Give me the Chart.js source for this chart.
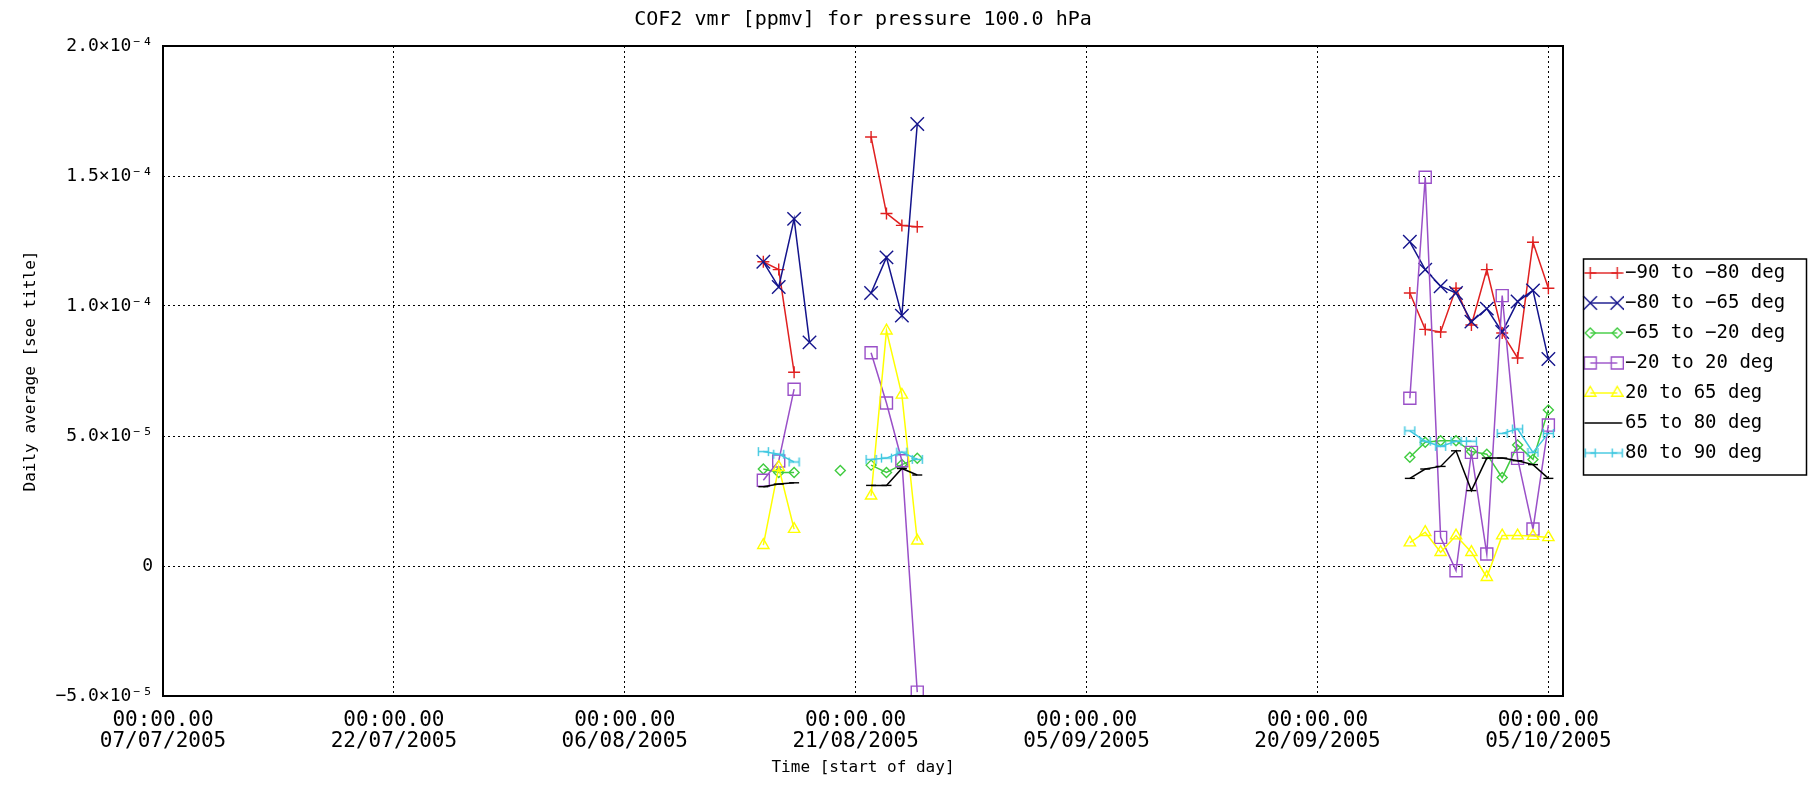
<!DOCTYPE html>
<html>
<head>
<meta charset="utf-8">
<script src="https://cdn.jsdelivr.net/npm/chart.js@4/dist/chart.umd.min.js"></script>
<style>
html,body{margin:0;padding:0;background:#fff;}
#wrap{width:1816px;height:785px;position:relative;background:#fff;}
</style>
</head>
<body>
<div id="wrap"><canvas id="c"></canvas></div>
<script>
// ---------------- data ----------------
const titleText = 'COF2 vmr [ppmv] for pressure 100.0 hPa';
const xAxisTitle = 'Time [start of day]';
const yAxisTitle = 'Daily average [see title]';
const originDate = '07/07/2005';
const xTickTime = '00:00.00';
const xTickDates = ['07/07/2005','22/07/2005','06/08/2005','21/08/2005','05/09/2005','20/09/2005','05/10/2005'];
const yTickValues = [-5e-5, 0, 5e-5, 1e-4, 1.5e-4, 2e-4];
const yTickLabels = ['\u22125.0\u00d710\u207b\u2075','0','5.0\u00d710\u207b\u2075','1.0\u00d710\u207b\u2074','1.5\u00d710\u207b\u2074','2.0\u00d710\u207b\u2074'];

const dates = ['15/08/2005','16/08/2005','17/08/2005','18/08/2005','19/08/2005','20/08/2005','21/08/2005',
               '22/08/2005','23/08/2005','24/08/2005','25/08/2005','25/09/2005','26/09/2005','27/09/2005',
               '28/09/2005','29/09/2005','30/09/2005','01/10/2005','02/10/2005','03/10/2005','04/10/2005','05/10/2005'];

const seriesNames = ['\u221290 to \u221280 deg','\u221280 to \u221265 deg','\u221265 to \u221220 deg','\u221220 to 20 deg','20 to 65 deg','65 to 80 deg','80 to 90 deg'];

const lat90to80 = [117e-6,114e-6,74.5e-6,null,null,null,null,165e-6,135.6e-6,131e-6,130.5e-6,null,105e-6,91e-6,90e-6,106.8e-6,92.7e-6,114e-6,89.6e-6,80e-6,124.5e-6,106.8e-6];
const lat80to65 = [117e-6,107.3e-6,133.5e-6,86e-6,null,null,null,105e-6,118.7e-6,96.3e-6,170e-6,null,124.7e-6,114e-6,107.6e-6,105e-6,94e-6,99e-6,90e-6,101.7e-6,106e-6,79.6e-6];
const lat65to20 = [37.3e-6,36e-6,36e-6,null,null,36.7e-6,null,38.8e-6,36e-6,39e-6,41.4e-6,null,41.8e-6,47.6e-6,48.2e-6,48.2e-6,44e-6,43e-6,34e-6,46.5e-6,41e-6,60e-6];
const lat20to20 = [33e-6,40.4e-6,68e-6,null,null,null,null,82e-6,62.7e-6,40.5e-6,-48.5e-6,null,64.5e-6,149.5e-6,11e-6,-1.8e-6,43.7e-6,4.6e-6,104e-6,41.4e-6,14.2e-6,54.2e-6];
const lat20to65 = [8e-6,38e-6,14.2e-6,null,null,null,null,27e-6,90.5e-6,65.8e-6,9.7e-6,null,9e-6,13e-6,5.3e-6,11.7e-6,5.3e-6,-4.3e-6,11.7e-6,11.7e-6,11.5e-6,11e-6];
const lat65to80 = [30.5e-6,31.5e-6,32e-6,null,null,null,null,31e-6,31e-6,37.5e-6,35e-6,null,33.7e-6,37.3e-6,38.3e-6,44.3e-6,29e-6,41.5e-6,41.5e-6,40.5e-6,39e-6,33.7e-6];
const lat80to90 = [44e-6,43e-6,40e-6,null,null,null,null,41e-6,41.5e-6,43.8e-6,41e-6,null,52e-6,48e-6,46e-6,48e-6,48e-6,null,51e-6,52.7e-6,43.7e-6,51e-6];

// ---------------- helpers ----------------
function dayOf(s){
  const p = s.split('/').map(Number);
  const o = originDate.split('/').map(Number);
  return (Date.UTC(p[2],p[1]-1,p[0]) - Date.UTC(o[2],o[1]-1,o[0])) / 86400000;
}
const xDays = dates.map(dayOf);
const xTickDays = xTickDates.map(dayOf);

function makeCap(color){
  const cv = document.createElement('canvas');
  cv.width = 13; cv.height = 11;
  const c = cv.getContext('2d');
  c.strokeStyle = color; c.lineWidth = 1.4;
  c.beginPath();
  c.moveTo(1.5,5.5); c.lineTo(11.5,5.5);
  c.moveTo(1.5,1); c.lineTo(1.5,10);
  c.moveTo(11.5,1); c.lineTo(11.5,10);
  c.stroke();
  return cv;
}

const FONT = "'DejaVu Sans Mono', 'Liberation Mono', monospace";
const colors = ['#e02020','#14148c','#40cc40','#9a50c8','#ffff00','#000000','#40c8e0'];
const styles = ['cross','crossRot','rectRot','rect','triangle','line', makeCap('#40c8e0')];
const radii  = [6, 9.5, 5, 8.5, 6.5, 5, 6];
const values = [lat90to80, lat80to65, lat65to20, lat20to20, lat20to65, lat65to80, lat80to90];

function drawMark(c, style, x, y, r){
  if (style instanceof HTMLCanvasElement){ c.drawImage(style, x - style.width/2, y - style.height/2); return; }
  c.beginPath();
  if (style === 'cross'){ c.moveTo(x-r,y); c.lineTo(x+r,y); c.moveTo(x,y-r); c.lineTo(x,y+r); }
  else if (style === 'crossRot'){ const d=r*Math.SQRT1_2; c.moveTo(x-d,y-d); c.lineTo(x+d,y+d); c.moveTo(x-d,y+d); c.lineTo(x+d,y-d); }
  else if (style === 'rectRot'){ c.moveTo(x-r,y); c.lineTo(x,y-r); c.lineTo(x+r,y); c.lineTo(x,y+r); c.closePath(); }
  else if (style === 'rect'){ const s=r*Math.SQRT1_2; c.rect(x-s,y-s,2*s,2*s); }
  else if (style === 'triangle'){ const h=r*0.866; c.moveTo(x,y-r); c.lineTo(x+h,y+r/2); c.lineTo(x-h,y+r/2); c.closePath(); }
  else if (style === 'line'){ c.moveTo(x-r,y); c.lineTo(x+r,y); }
  c.stroke();
}

function makeSample(i){
  const cv = document.createElement('canvas');
  cv.width = 58; cv.height = 22;
  const c = cv.getContext('2d');
  c.strokeStyle = colors[i]; c.lineWidth = 1.4;
  const y = 11;
  c.beginPath();
  if (styles[i] === 'line'){ c.moveTo(18.5,y); c.lineTo(56.5,y); }
  else { c.moveTo(24.5,y); c.lineTo(51.5,y); }
  c.stroke();
  if (styles[i] !== 'line'){
    drawMark(c, styles[i], 24.5, y, radii[i]);
    drawMark(c, styles[i], 51.5, y, radii[i]);
  }
  return cv;
}
const samples = seriesNames.map((n,i)=>makeSample(i));

const datasets = seriesNames.map((name,i)=>({
  label: name,
  data: xDays.map((d,k)=>({x:d, y: values[i][k]})),
  borderColor: colors[i],
  borderWidth: 1.5,
  pointStyle: styles[i],
  pointRadius: radii[i],
  pointHoverRadius: radii[i],
  pointBorderColor: colors[i],
  pointBackgroundColor: 'rgba(0,0,0,0)',
  pointBorderWidth: 1.4,
  spanGaps: false,
  tension: 0,
  order: seriesNames.length - i
}));

const LEGEND_W = 253;
const LEGEND_PAD = 11;
const LEGEND_FIRST_ROW_TOP = 263.5;
const framePlugin = {
  id: 'frame',
  beforeLayout(chart){
    const lg = chart.legend;
    if (lg && !lg._wfix){
      const f = lg.fit;
      lg.fit = function(){ f.call(this); this.width = LEGEND_W; };
      lg._wfix = true;
    }
  },
  afterLayout(chart){
    const lg = chart.legend;
    if (lg && lg.columnSizes && lg.columnSizes.length){
      const colH = lg.columnSizes[0].height;
      const cur = (lg.top + LEGEND_PAD + lg.bottom - colH) / 2;
      const d = LEGEND_FIRST_ROW_TOP - cur;
      lg.top += d; lg.bottom += d;
    }
  },
  afterDraw(chart){
    const {ctx, chartArea:a} = chart;
    ctx.save();
    ctx.strokeStyle = '#000';
    ctx.lineWidth = 2;
    ctx.strokeRect(a.left, a.top, a.right - a.left, a.bottom - a.top);
    const lg = chart.legend;
    if (lg && lg.columnSizes && lg.columnSizes.length){
      const colH = lg.columnSizes[0].height;
      const y0 = (lg.top + LEGEND_PAD + lg.bottom - colH) / 2;
      ctx.lineWidth = 1.5;
      const x0 = lg.left + 20;
      ctx.strokeRect(x0 + 0.5, y0 - 4.5, 1806 - x0, colH - LEGEND_PAD + 4 + 13);
    }
    ctx.restore();
  }
};

new Chart(document.getElementById('c'), {
  type: 'line',
  data: { datasets },
  plugins: [framePlugin],
  options: {
    responsive: true,
    maintainAspectRatio: false,
    animation: false,
    devicePixelRatio: 1,
    layout: { padding: 0 },
    plugins: {
      title: {
        display: true, text: titleText, fullSize: false,
        color: '#000', font: { family: FONT, size: 20, weight: 'normal', lineHeight: 1.2 },
        padding: { top: 8, bottom: 14 }
      },
      legend: {
        display: true, position: 'right', align: 'center',
        labels: {
          usePointStyle: true, pointStyleWidth: 41.5, padding: LEGEND_PAD,
          color: '#000', font: { family: FONT, size: 19 },
          generateLabels: (chart) => chart.data.datasets.map((ds,i)=>({
            text: ds.label, pointStyle: samples[i], fillStyle: 'rgba(0,0,0,0)',
            strokeStyle: 'rgba(0,0,0,0)', lineWidth: 0, hidden: false, datasetIndex: i, fontColor: '#000'
          }))
        }
      },
      tooltip: { enabled: false }
    },
    scales: {
      x: {
        type: 'linear', min: 0, max: 90.95,
        afterBuildTicks: (s) => { s.ticks = xTickDays.map(v => ({value: v})); },
        afterFit: (s) => { s.height = 89; },
        ticks: {
          autoSkip: false, maxRotation: 0, minRotation: 0, padding: 14, color: '#000',
          font: { family: FONT, size: 21, lineHeight: 1.0 },
          callback: (v) => { const i = xTickDays.indexOf(v); return [xTickTime, xTickDates[i]]; }
        },
        grid: { color: '#000', lineWidth: 1, drawTicks: false },
        border: { display: false, dash: [2, 3] },
        title: { display: true, text: xAxisTitle, color: '#000', font: { family: FONT, size: 16, lineHeight: 1.2 }, padding: { top: 0, bottom: 8 } }
      },
      y: {
        type: 'linear', min: -5e-5, max: 2e-4,
        afterBuildTicks: (s) => { s.ticks = yTickValues.map(v => ({value: v})); },
        afterFit: (s) => { s.width = 163; },
        ticks: {
          padding: 10, color: '#000',
          font: { family: FONT, size: 18 },
          callback: (v) => yTickLabels[yTickValues.indexOf(v)]
        },
        grid: { color: '#000', lineWidth: 1, drawTicks: false },
        border: { display: false, dash: [2, 3] },
        title: { display: true, text: yAxisTitle, color: '#000', font: { family: FONT, size: 16, lineHeight: 1.2 }, padding: { top: 21, bottom: 0 } }
      }
    }
  }
});
</script>
</body>
</html>
